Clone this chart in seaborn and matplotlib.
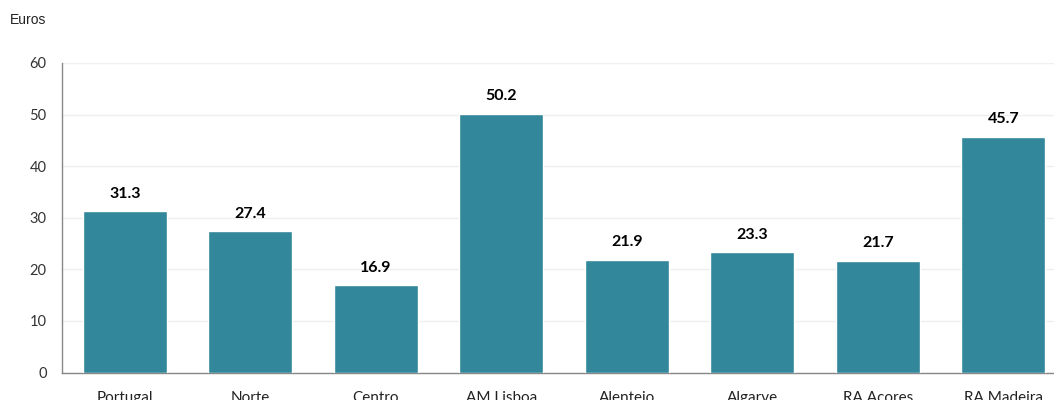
import matplotlib
matplotlib.use("Agg")
import matplotlib.pyplot as plt
import seaborn as sns
import pandas as pd

categories = ["Portugal", "Norte", "Centro", "AM Lisboa", "Alentejo", "Algarve", "RA Acores", "RA Madeira"]
values = [31.3, 27.4, 16.9, 50.2, 21.9, 23.3, 21.7, 45.7]
yticks = [0, 10, 20, 30, 40, 50, 60]

df = pd.DataFrame({"region": categories, "euros": values})

sns.set_style("white")
fig = plt.figure(figsize=(10.54, 4.0), dpi=100)
ax = fig.add_axes([62/1054, 27.5/400, (1066-62)/1054, 309.5/400])

bar_color = "#32879B"
sns.barplot(data=df, x="region", y="euros", color=bar_color, width=0.67,
            saturation=1, ax=ax, zorder=3)

ax.set_ylim(0, 60)
ax.set_xlim(-0.5, len(categories) - 0.5)
ax.set_yticks(yticks)
ax.set_yticklabels([str(t) for t in yticks], fontfamily="Lato", fontsize=10.5, color="#333333")
ax.yaxis.grid(True, color="#efefef", linewidth=1, zorder=0)
ax.set_axisbelow(True)

ax.set_xticks(range(len(categories)))
ax.set_xticklabels(categories, fontfamily="Lato", fontsize=11, color="#222222")
ax.tick_params(axis="x", which="major", length=0, pad=13)
ax.set_xticks([i - 0.5 for i in range(len(categories) + 1)], minor=True)
ax.tick_params(axis="x", which="minor", length=5, color="#888888", width=1, direction="out")
ax.tick_params(axis="y", length=5, color="#888888", width=1, direction="out", pad=6)

ax.set_xlabel("")
ax.set_ylabel("")
for s in ["top", "right"]:
    ax.spines[s].set_visible(False)
for s in ["left", "bottom"]:
    ax.spines[s].set_color("#888888")
    ax.spines[s].set_linewidth(1)

for i, v in enumerate(values):
    ax.annotate(f"{v:.1f}", xy=(i, v), xytext=(0, 7.5), textcoords="offset points",
                ha="center", va="bottom", fontfamily="Lato", fontweight="bold",
                fontsize=11.5, color="#000000")

fig.text(10/1054, 1 - 20/400, "Euros", fontfamily="Liberation Sans", fontsize=10,
         color="#222222", ha="left", va="center")

fig.savefig("out.png", dpi=100)
